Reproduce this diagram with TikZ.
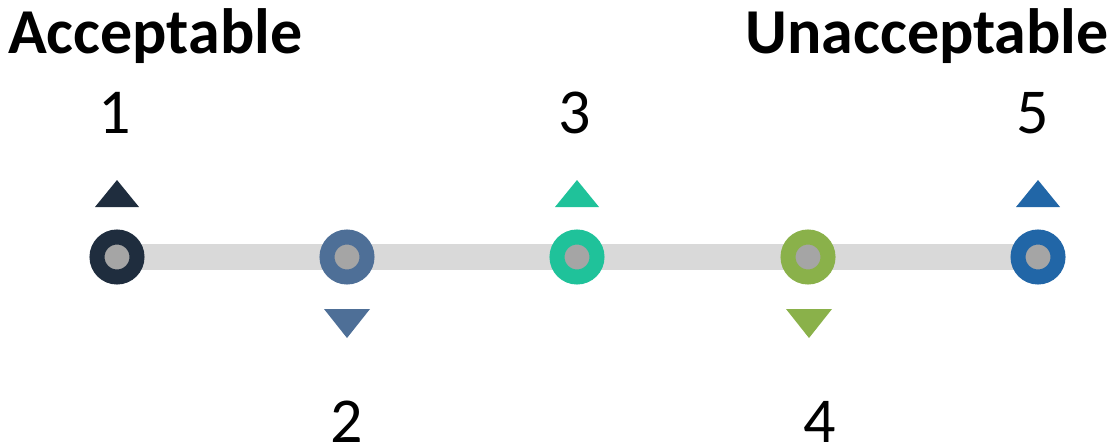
\documentclass[tikz,border=0pt]{standalone}
\usepackage{fontspec}
\setmainfont{Carlito}
\usetikzlibrary{backgrounds}
\definecolor{cOne}{HTML}{1F2D3E}
\definecolor{cTwo}{HTML}{4E6F97}
\definecolor{cThree}{HTML}{1FC29A}
\definecolor{cFour}{HTML}{8AB14A}
\definecolor{cFive}{HTML}{2166A7}
\definecolor{barGray}{HTML}{D9D9D9}
\definecolor{hubGray}{HTML}{A5A5A5}
\tikzset{
  ring/.style={circle, inner sep=0pt, minimum size=40pt, line width=15pt,
               fill=hubGray, draw=#1},
  heading/.style={inner sep=0pt, font=\fontsize{64}{64}\selectfont\bfseries},
  digit/.style={inner sep=0pt, anchor=base, font=\fontsize{64}{64}\selectfont},
}
\begin{document}
\begin{tikzpicture}[x=1pt,y=-1pt]
\useasboundingbox (0,0) rectangle (1115,447);

% headings
\node[heading, anchor=base west] (acc) at (8,53) {Acceptable};
\node[heading, anchor=base east] (unacc) at (1109,53) {Unacceptable};

% scale points
\node[ring=cOne]   (c1) at (117,257) {};
\node[ring=cTwo]   (c2) at (347,257) {};
\node[ring=cThree] (c3) at (577,257) {};
\node[ring=cFour]  (c4) at (808,257) {};
\node[ring=cFive]  (c5) at (1038,257) {};

% connecting bar behind the points
\begin{scope}[on background layer]
  \draw[barGray, line width=26pt] (c1.center) -- (c5.center);
\end{scope}

% markers above and below
\fill[cOne]   (117,180) -- ++(22,27) -- ++(-44,0) -- cycle;
\fill[cThree] (577,180) -- ++(22,27) -- ++(-44,0) -- cycle;
\fill[cFive]  (1038,180) -- ++(22,27) -- ++(-44,0) -- cycle;
\fill[cTwo]   (347,338) -- ++(23,-29) -- ++(-46,0) -- cycle;
\fill[cFour]  (809,338) -- ++(23,-29) -- ++(-46,0) -- cycle;

% numbers
\node[digit] (n1) at (115,133) {1};
\node[digit] (n3) at (575,133) {3};
\node[digit] (n5) at (1033,133) {5};
\node[digit] (n2) at (347,442) {2};
\node[digit] (n4) at (820,442) {4};
\end{tikzpicture}
\end{document}
